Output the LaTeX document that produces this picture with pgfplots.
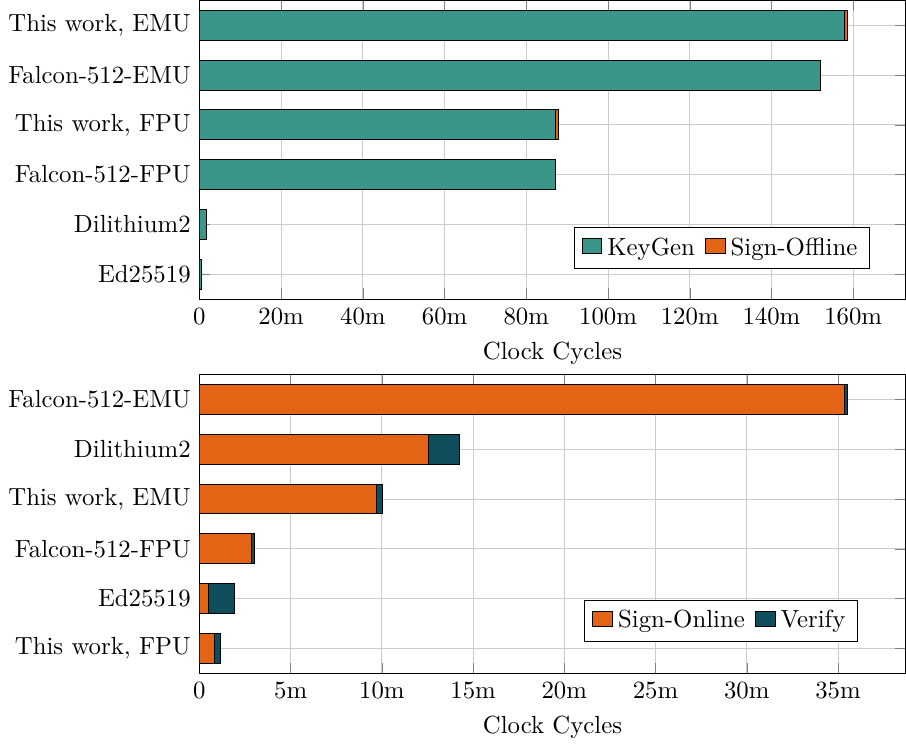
\documentclass[border=0pt]{standalone}
\usepackage{pgfplots}
\pgfplotsset{compat=1.18}
\definecolor{cKey}{RGB}{58,150,137}
\definecolor{cOrange}{RGB}{227,100,20}
\definecolor{cVerify}{RGB}{15,76,92}
\begin{document}
\begin{tikzpicture}
\pgfplotsset{
  common/.style={
    scale only axis,
    width=285pt, height=120.5pt,
    xbar stacked,
    bar width=0.6,
    xmin=0,
    ymin=-0.5, ymax=5.5,
    ytick={0,...,5},
    grid=major,
    major grid style={lightgray!80},
    xlabel={Clock Cycles},
    legend columns=2,
    legend style={/tikz/every even column/.append style={column sep=2pt}},
    every axis plot/.append style={draw=black},
  }
}
\begin{axis}[common,
  xmax=172.8,
  xtick={0,20,...,160},
  xticklabels={0,20m,40m,60m,80m,100m,120m,140m,160m},
  yticklabels={Ed25519,Dilithium2,Falcon-512-FPU,{This work, FPU},Falcon-512-EMU,{This work, EMU}},
  legend style={at={(0.95,0.1)},anchor=south east},
]
\addplot[fill=cKey] coordinates {(0.5,0) (1.7,1) (87.1,2) (87.2,3) (152.1,4) (157.9,5)};
\addplot[fill=cOrange] coordinates {(0,0) (0,1) (0,2) (0.8,3) (0,4) (0.8,5)};
\legend{KeyGen,Sign-Offline}
\end{axis}
\begin{axis}[common,
  at={(0,-151pt)},
  xmax=38.7,
  xtick={0,5,...,35},
  xticklabels={0,5m,10m,15m,20m,25m,30m,35m},
  yticklabels={{This work, FPU},Ed25519,Falcon-512-FPU,{This work, EMU},Dilithium2,Falcon-512-EMU},
  legend style={at={(0.933,0.105)},anchor=south east},
]
\addplot[fill=cOrange] coordinates {(0.81,0) (0.52,1) (2.84,2) (9.70,3) (12.54,4) (35.36,5)};
\addplot[fill=cVerify] coordinates {(0.33,0) (1.41,1) (0.19,2) (0.33,3) (1.71,4) (0.18,5)};
\legend{Sign-Online,Verify}
\end{axis}
\end{tikzpicture}
\end{document}
